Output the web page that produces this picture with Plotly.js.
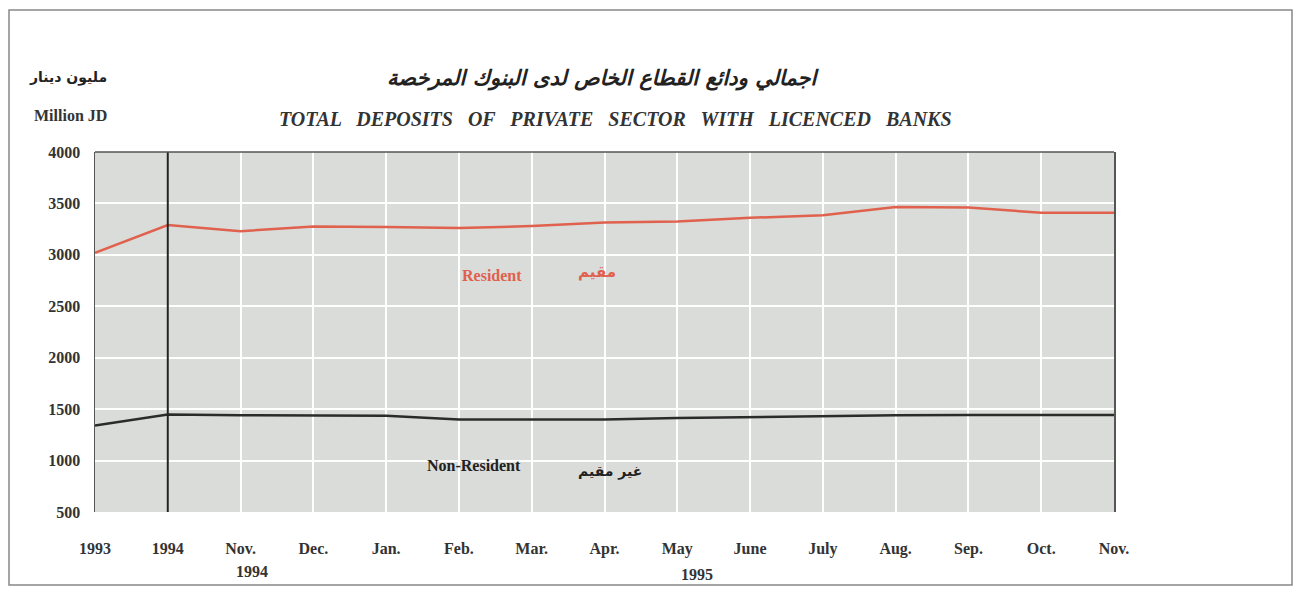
<!DOCTYPE html>
<html>
<head>
<meta charset="utf-8">
<script src="https://cdn.plot.ly/plotly-3.0.1.min.js"></script>
<style>html,body{margin:0;padding:0;background:#fff;}#chart{width:1294px;height:590px;}</style>
</head>
<body>
<div id="chart"></div>
<script>
// Categories (x positions) and tick labels
const categories = ["1993","1994","Nov.","Dec.","Jan.","Feb.","Mar.","Apr.","May","June","July","Aug.","Sep.","Oct.","Nov."];
const tickLabels = ["1993","1994","Nov.","Dec.","Jan.","Feb.","Mar.","Apr.","May","June","July","Aug.","Sep.","Oct.","Nov."];
// Series (million JD)
const resident    = [3020, 3290, 3230, 3275, 3270, 3260, 3280, 3315, 3325, 3360, 3385, 3465, 3460, 3410, 3410];
const nonResident = [1340, 1448, 1440, 1436, 1436, 1400, 1400, 1400, 1413, 1423, 1433, 1440, 1443, 1443, 1443];
const yTicks = [500, 1000, 1500, 2000, 2500, 3000, 3500, 4000];

const xIdx = categories.map((c, i) => i);
const serif = "Liberation Serif, Times New Roman, serif";
const arabic = "DejaVu Sans, Noto Sans, sans-serif";

const traces = [
  {x: xIdx, y: resident, type: "scatter", mode: "lines", name: "Resident",
   line: {color: "#e0614d", width: 2.5}, hoverinfo: "y"},
  {x: xIdx, y: nonResident, type: "scatter", mode: "lines", name: "Non-Resident",
   line: {color: "#2b2b2b", width: 2.5}, hoverinfo: "y"}
];

const splitIdx = categories.indexOf("1994");

function px(xp) { return (xp - 95) / 1019; }
function py(yp) { return (512 - yp) / 360; }
function ann(text, x, y, font) {
  return {text: text, xref: "paper", yref: "paper", x: px(x), y: py(y),
          xanchor: "center", yanchor: "middle", showarrow: false, font: font};
}

const layout = {
  width: 1294, height: 590,
  margin: {l: 95, r: 180, t: 152, b: 78},
  paper_bgcolor: "#ffffff",
  plot_bgcolor: "#d9dcd9",
  showlegend: false,
  xaxis: {
    range: [0, categories.length - 1],
    tickvals: xIdx, ticktext: tickLabels,
    showgrid: true, gridcolor: "#ffffff", gridwidth: 2,
    zeroline: false, showline: false, ticks: "",
    ticklabelstandoff: 25,
    tickfont: {family: serif, size: 16, color: "#333", weight: "bold"}
  },
  yaxis: {
    range: [500, 4000], tickvals: yTicks,
    showgrid: true, gridcolor: "#ffffff", gridwidth: 2,
    zeroline: false, showline: true, mirror: true, linecolor: "#555", linewidth: 1.5,
    ticks: "", ticklabelstandoff: 10,
    tickfont: {family: serif, size: 16, color: "#333", weight: "bold"}
  },
  shapes: [
    {type: "line", xref: "x", yref: "paper", x0: splitIdx, x1: splitIdx, y0: 0, y1: 1,
     line: {color: "#222", width: 2}},
    {type: "line", xref: "paper", yref: "paper", x0: 0, x1: 1, y0: 1, y1: 1,
     line: {color: "#555", width: 1.5}},
    {type: "rect", xref: "paper", yref: "paper", x0: px(9), x1: px(1292), y0: py(585), y1: py(10),
     line: {color: "#888", width: 1.5}, fillcolor: "rgba(0,0,0,0)", layer: "below"}
  ],
  annotations: [
    ann("اجمالي ودائع القطاع الخاص لدى البنوك المرخصة", 603, 78,
        {family: arabic, size: 21, color: "#222", weight: "bold", style: "italic"}),
    ann("TOTAL   DEPOSITS   OF   PRIVATE   SECTOR   WITH   LICENCED   BANKS", 615, 119,
        {family: serif, size: 20, color: "#333", weight: "bold", style: "italic"}),
    ann("مليون دينار", 68, 77, {family: arabic, size: 14, color: "#222", weight: "bold"}),
    ann("Million JD", 70, 116, {family: serif, size: 16, color: "#333", weight: "bold"}),
    ann("1994", 252, 571, {family: serif, size: 16, color: "#333", weight: "bold"}),
    ann("1995", 697, 574, {family: serif, size: 16, color: "#333", weight: "bold"}),
    ann("Resident", 492, 275, {family: serif, size: 16, color: "#e0614d", weight: "bold"}),
    ann("مقيم", 597, 272, {family: arabic, size: 15, color: "#e0614d", weight: "bold"}),
    ann("Non-Resident", 474, 465, {family: serif, size: 16, color: "#222", weight: "bold"}),
    ann("غير مقيم", 610, 471, {family: arabic, size: 14, color: "#222", weight: "bold"})
  ]
};

Plotly.newPlot("chart", traces, layout, {displayModeBar: false, staticPlot: true});
</script>
</body>
</html>
